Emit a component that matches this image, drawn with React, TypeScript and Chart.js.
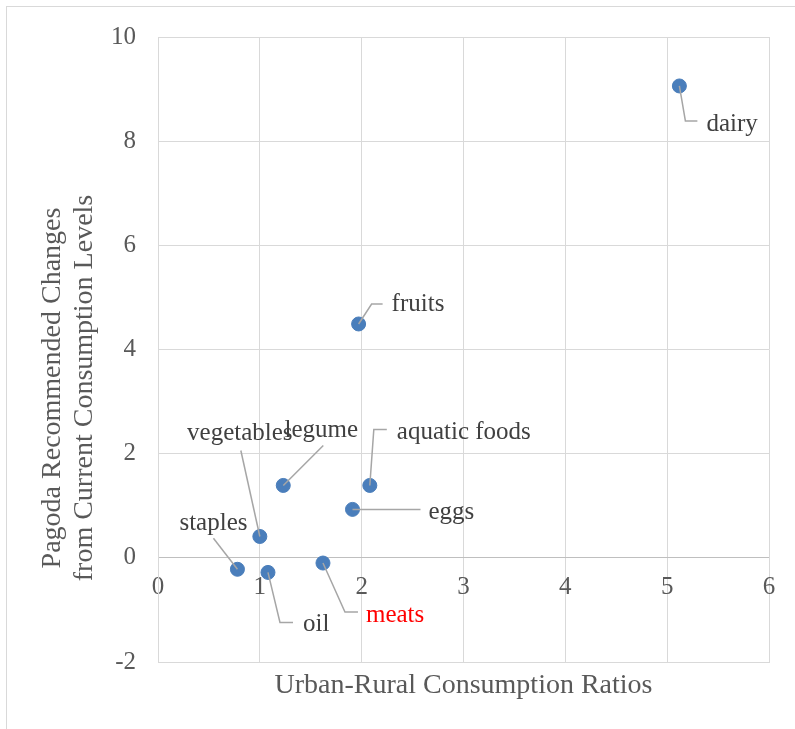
import React, { useEffect, useRef } from 'react';
import { Chart, registerables } from 'chart.js';

Chart.register(...registerables);

// ---- data ----
const categories = ['staples', 'vegetables', 'oil', 'legume', 'meats', 'eggs', 'aquatic foods', 'fruits', 'dairy'];
const urbanRuralRatios = [0.78, 1.0, 1.08, 1.23, 1.62, 1.91, 2.08, 1.97, 5.12];
const recommendedChanges = [-0.22, 0.41, -0.28, 1.39, -0.1, 0.93, 1.39, 4.49, 9.06];
const xTickValues = [0, 1, 2, 3, 4, 5, 6];
const yTickValues = [-2, 0, 2, 4, 6, 8, 10];
const xTitle = 'Urban-Rural Consumption Ratios';
const yTitleLines = ['Pagoda Recommended Changes', 'from Current Consumption Levels'];

// ---- label layout (pixel offsets from each point) ----
type LabelLayout = { path: [number, number][]; text: [number, number]; align: CanvasTextAlign; color: string };
const labelLayout: LabelLayout[] = [
  { path: [[0, 0], [-24, -31]], text: [-24, -46], align: 'center', color: '#404040' }, // staples
  { path: [[0, 0], [-19, -86]], text: [-20, -103], align: 'center', color: '#404040' }, // vegetables
  { path: [[0, 0], [12, 50], [25, 50]], text: [35, 52], align: 'left', color: '#404040' }, // oil
  { path: [[0, 0], [40, -40]], text: [38, -55], align: 'center', color: '#404040' }, // legume
  { path: [[0, 0], [22, 49], [35, 49]], text: [43, 52], align: 'left', color: '#ff0000' }, // meats
  { path: [[0, 0], [68, 0]], text: [76, 3], align: 'left', color: '#404040' }, // eggs
  { path: [[0, 0], [4, -56], [17, -56]], text: [27, -53], align: 'left', color: '#404040' }, // aquatic foods
  { path: [[0, 0], [13, -20], [24, -20]], text: [33, -20], align: 'left', color: '#404040' }, // fruits
  { path: [[0, 0], [6, 35], [18, 35]], text: [27, 38], align: 'left', color: '#404040' }, // dairy
];

const FONT = '"Liberation Serif", "Times New Roman", serif';
const GRID = '#d9d9d9';
const TEXT = '#595959';

const decorPlugin = {
  id: 'decor',
  beforeDraw(chart: any) {
    const ctx = chart.ctx;
    ctx.save();
    ctx.fillStyle = '#ffffff';
    ctx.fillRect(0, 0, chart.width, chart.height);
    ctx.strokeStyle = GRID;
    ctx.lineWidth = 1;
    ctx.strokeRect(6.5, 6.5, chart.width + 20, chart.height + 20);
    ctx.restore();
  },
  afterDatasetsDraw(chart: any) {
    const ctx = chart.ctx;
    const meta = chart.getDatasetMeta(0);
    ctx.save();
    meta.data.forEach((pt: any, i: number) => {
      const L = labelLayout[i];
      if (!L) return;
      const { x, y } = pt.getProps(['x', 'y'], true);
      ctx.beginPath();
      L.path.forEach(([dx, dy], k) => {
        if (k === 0) ctx.moveTo(x + dx, y + dy);
        else ctx.lineTo(x + dx, y + dy);
      });
      ctx.strokeStyle = '#a6a6a6';
      ctx.lineWidth = 1.5;
      ctx.stroke();
      ctx.font = `25px ${FONT}`;
      ctx.fillStyle = L.color;
      ctx.textAlign = L.align;
      ctx.textBaseline = 'middle';
      ctx.fillText(categories[i], x + L.text[0], y + L.text[1]);
    });
    ctx.restore();
  },
  afterDraw(chart: any) {
    const ctx = chart.ctx;
    ctx.save();
    ctx.translate(53, 388);
    ctx.rotate(-Math.PI / 2);
    ctx.font = `28px ${FONT}`;
    ctx.fillStyle = TEXT;
    ctx.textAlign = 'center';
    ctx.textBaseline = 'middle';
    yTitleLines.forEach((line, i) => ctx.fillText(line, 0, i * 32));
    ctx.restore();
  },
};

export default function App() {
  const ref = useRef<HTMLCanvasElement | null>(null);
  useEffect(() => {
    if (!ref.current) return;
    const chart = new Chart(ref.current, {
      type: 'scatter',
      data: {
        labels: categories,
        datasets: [
          {
            data: urbanRuralRatios.map((v, i) => ({ x: v, y: recommendedChanges[i] })),
            backgroundColor: '#4a7ebb',
            borderColor: '#4a7ebb',
            pointRadius: 7,
            pointBorderWidth: 1,
            pointHoverRadius: 7,
            xAxisID: 'x',
            yAxisID: 'y',
          },
        ],
      },
      options: {
        responsive: false,
        animation: false,
        events: [],
        layout: { padding: { left: 0, top: 35, right: 26, bottom: 0 } },
        plugins: { legend: { display: false }, tooltip: { enabled: false } },
        scales: {
          x: {
            type: 'linear',
            position: 'bottom',
            min: 0,
            max: 6,
            afterBuildTicks: (s: any) => { s.ticks = xTickValues.map((v) => ({ value: v })); },
            ticks: { display: false },
            grid: { color: GRID, lineWidth: 1, drawTicks: false },
            border: { display: true, color: GRID, width: 1 },
            title: {
              display: true,
              text: xTitle,
              color: TEXT,
              font: { family: FONT, size: 28, lineHeight: 1.2 },
              padding: { top: 0, bottom: 27 },
            },
            afterFit: (s: any) => { s.height = 67; },
          },
          x2: {
            type: 'linear',
            position: { y: 0 } as any,
            min: 0,
            max: 6,
            afterBuildTicks: (s: any) => { s.ticks = xTickValues.map((v) => ({ value: v })); },
            ticks: { color: TEXT, padding: 15, font: { family: FONT, size: 25, lineHeight: 1.2 }, maxRotation: 0 },
            grid: { display: false, drawTicks: false },
            border: { display: false },
          },
          y: {
            type: 'linear',
            position: 'left',
            min: -2,
            max: 10,
            afterBuildTicks: (s: any) => { s.ticks = yTickValues.map((v) => ({ value: v })); },
            ticks: { color: TEXT, padding: 22, font: { family: FONT, size: 25, lineHeight: 1.2 } },
            grid: {
              color: (c: any) => (c.tick && c.tick.value === 0 ? '#bfbfbf' : GRID),
              lineWidth: 1,
              drawTicks: false,
            },
            border: { display: true, color: GRID, width: 1 },
            afterFit: (s: any) => { s.width = 158; },
          },
        },
      },
      plugins: [decorPlugin],
    });
    return () => chart.destroy();
  }, []);
  return (
    <div style={{ position: 'absolute', left: 0, top: 0, width: 795, height: 729 }}>
      <canvas ref={ref} width={795} height={729} style={{ display: 'block', width: 795, height: 729 }} />
    </div>
  );
}
